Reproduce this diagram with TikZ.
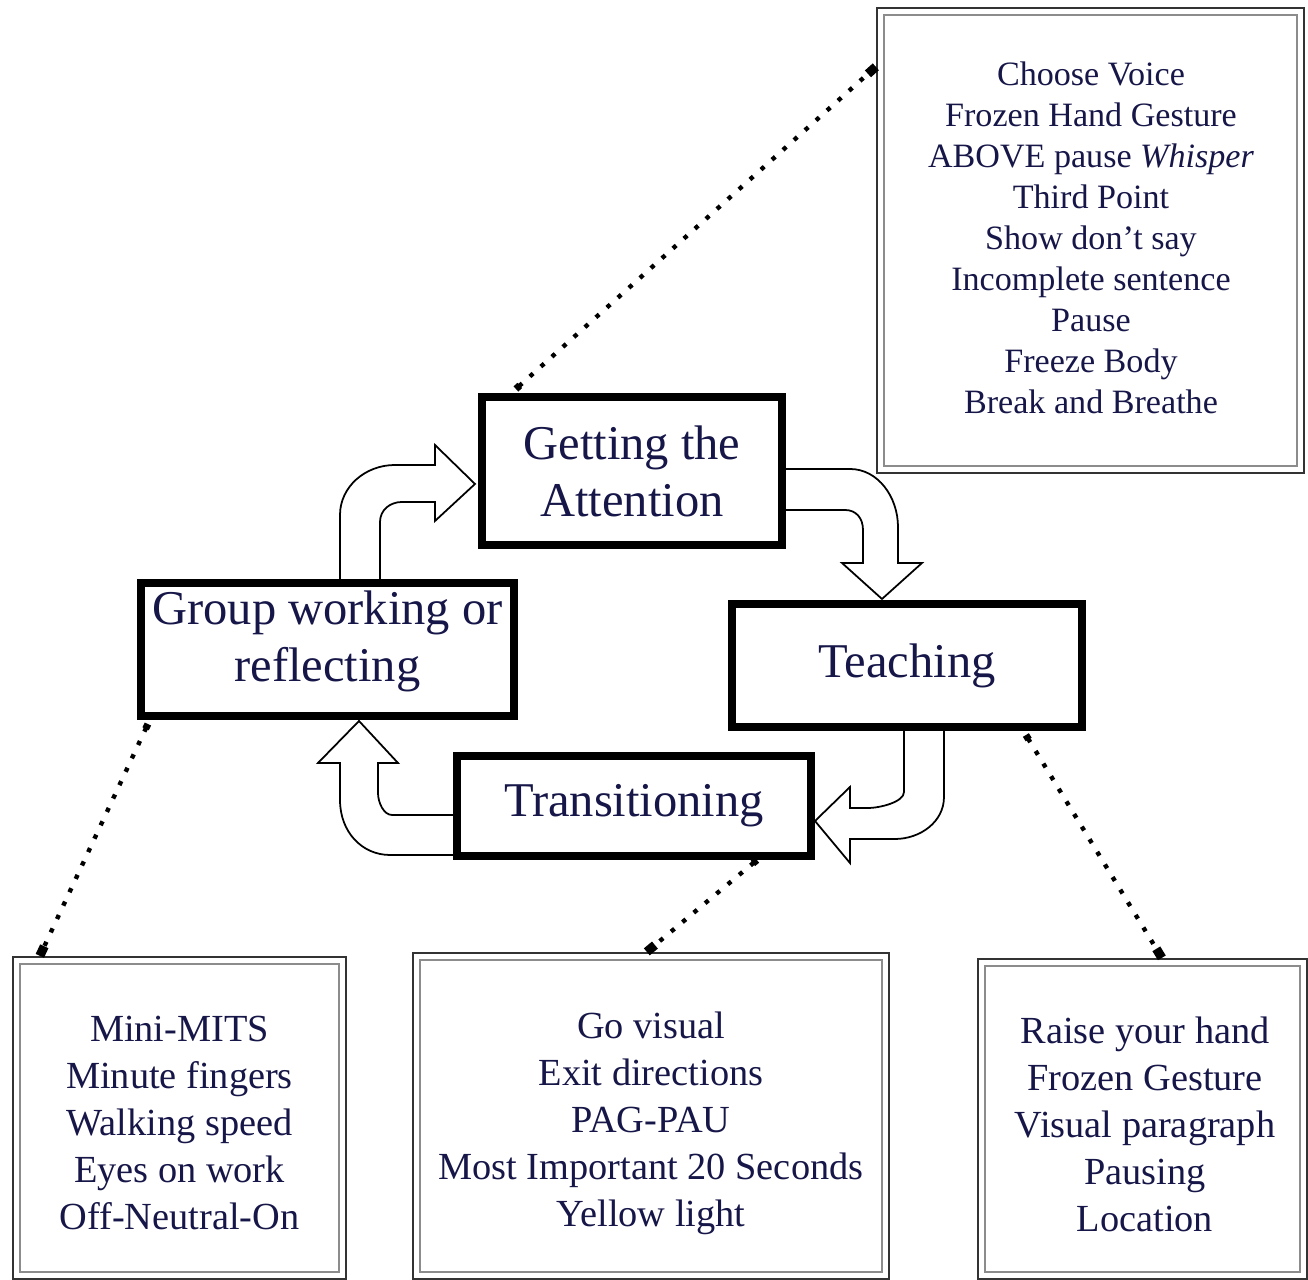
\documentclass[tikz,border=0pt]{standalone}
\usepackage{fontspec}
\setmainfont{Liberation Serif}
\usetikzlibrary{arrows.meta,calc}
\definecolor{navy}{RGB}{22,22,72}
\begin{document}
\begin{tikzpicture}[x=0.01cm,y=-0.01cm,
  mainbox/.style={draw=black, line width=0.08cm, inner sep=0pt, align=center, text=navy,
    font=\fontsize{13.8}{16.2}\selectfont},
  maintext/.style={inner sep=0pt, align=center, text=navy, font=\fontsize{13.8}{16.2}\selectfont},
  listbox/.style={draw=black!80, line width=0.6pt, inner sep=0pt},
  listtext/.style={inner sep=0pt, align=center, text=navy},
  smalltext/.style={font=\fontsize{9.7}{11.67}\selectfont},
  bottext/.style={font=\fontsize{10.9}{13.37}\selectfont},
  innerline/.style={draw=black!45, line width=0.7pt},
  blockarrow/.style={draw=black, line width=0.5pt, fill=white, line join=miter},
  dotline/.style={line width=1.25pt, dash pattern=on 1.25pt off 2.95pt,
    {Square[length=1.5pt,width=2pt]}-{Square[length=3pt,width=2.6pt]}}
]
\useasboundingbox (0,0) rectangle (1308,1280);

% block arrows
\draw[blockarrow] (340,579) -- (340,515) .. controls (340,487) and (365,465) .. (395,465)
  -- (435,465) -- (435,445) -- (475,484) -- (435,521) -- (435,502) -- (402,502)
  .. controls (390,502) and (380,510) .. (380,522) -- (380,579);
\draw[blockarrow] (786,469) -- (850,469) .. controls (878,469) and (898,497) .. (898,527)
  -- (898,563) -- (922,563) -- (882,599) -- (842,563) -- (863,563) -- (863,530)
  .. controls (863,518) and (856,510) .. (845,510) -- (786,510);
\draw[blockarrow] (904,731) -- (904,792) .. controls (904,802) and (880,808) .. (868,808)
  -- (850,808) -- (850,787) -- (815,821) -- (850,863) -- (850,839) -- (895,839)
  .. controls (920,839) and (944,822) .. (944,797) -- (944,731);
\draw[blockarrow] (453,815) -- (392,815) .. controls (384,815) and (378,803) .. (378,793)
  -- (378,763) -- (398,763) -- (359,721) -- (318,763) -- (340,763) -- (340,800)
  .. controls (340,832) and (362,855) .. (390,855) -- (453,855);

% main boxes
\node[mainbox, minimum width=3cm, minimum height=1.48cm] (att) at (632,471) {Getting the\\Attention};
\node[mainbox, minimum width=3.5cm, minimum height=1.23cm] (teach) at (907,665.5) {Teaching};
\node[mainbox, minimum width=3.54cm, minimum height=1cm] (trans) at (634,806) {Transitioning};
\node[mainbox, minimum width=3.73cm, minimum height=1.33cm] (grp) at (327.5,649.5) {};
\node[maintext] (grptext) at (327.5,641) {Group working or\\reflecting};

% list boxes
\node[listbox, minimum width=4.27cm, minimum height=4.65cm] (tr) at (1090.5,240.5) {};
\node[listtext, smalltext] (trtext) at (1091,238)
  {Choose Voice\\Frozen Hand Gesture\\ABOVE pause \textit{Whisper}\\Third Point\\Show don’t say\\Incomplete sentence\\Pause\\Freeze Body\\Break and Breathe};
\node[listbox, minimum width=3.33cm, minimum height=3.22cm] (bl) at (179.5,1118) {};
\node[listtext, bottext] (bltext) at (179.5,1123)
  {Mini-MITS\\Minute fingers\\Walking speed\\Eyes on work\\Off-Neutral-On};
\node[listbox, minimum width=4.76cm, minimum height=3.26cm] (bm) at (651,1116) {};
\node[listtext, bottext] (bmtext) at (651,1123)
  {Go visual\\Exit directions\\PAG-PAU\\Most Important 20 Seconds\\Yellow light};
\node[listbox, minimum width=3.29cm, minimum height=3.20cm] (br) at (1142.5,1119) {};
\node[listtext, bottext] (brtext) at (1145,1124)
  {Raise your hand\\Frozen Gesture\\Visual paragraph\\Pausing\\Location};

\foreach \b in {tr,bl,bm,br}{
  \draw[innerline] ([shift={(8,8)}]\b.north west) rectangle ([shift={(-8,-8)}]\b.south east);
}

% dotted connectors
\draw[dotline] ([shift={(38,-4)}]att.north west) -- ([shift={(0,60)}]tr.north west);
\draw[dotline] ([shift={(11,4)}]grp.south west) -- ([shift={(28,0)}]bl.north west);
\draw[dotline] ([shift={(304,0)}]trans.south west) -- ([shift={(235,0)}]bm.north west);
\draw[dotline] ([shift={(298,4)}]teach.south west) -- ([shift={(185,0)}]br.north west);
\end{tikzpicture}
\end{document}
